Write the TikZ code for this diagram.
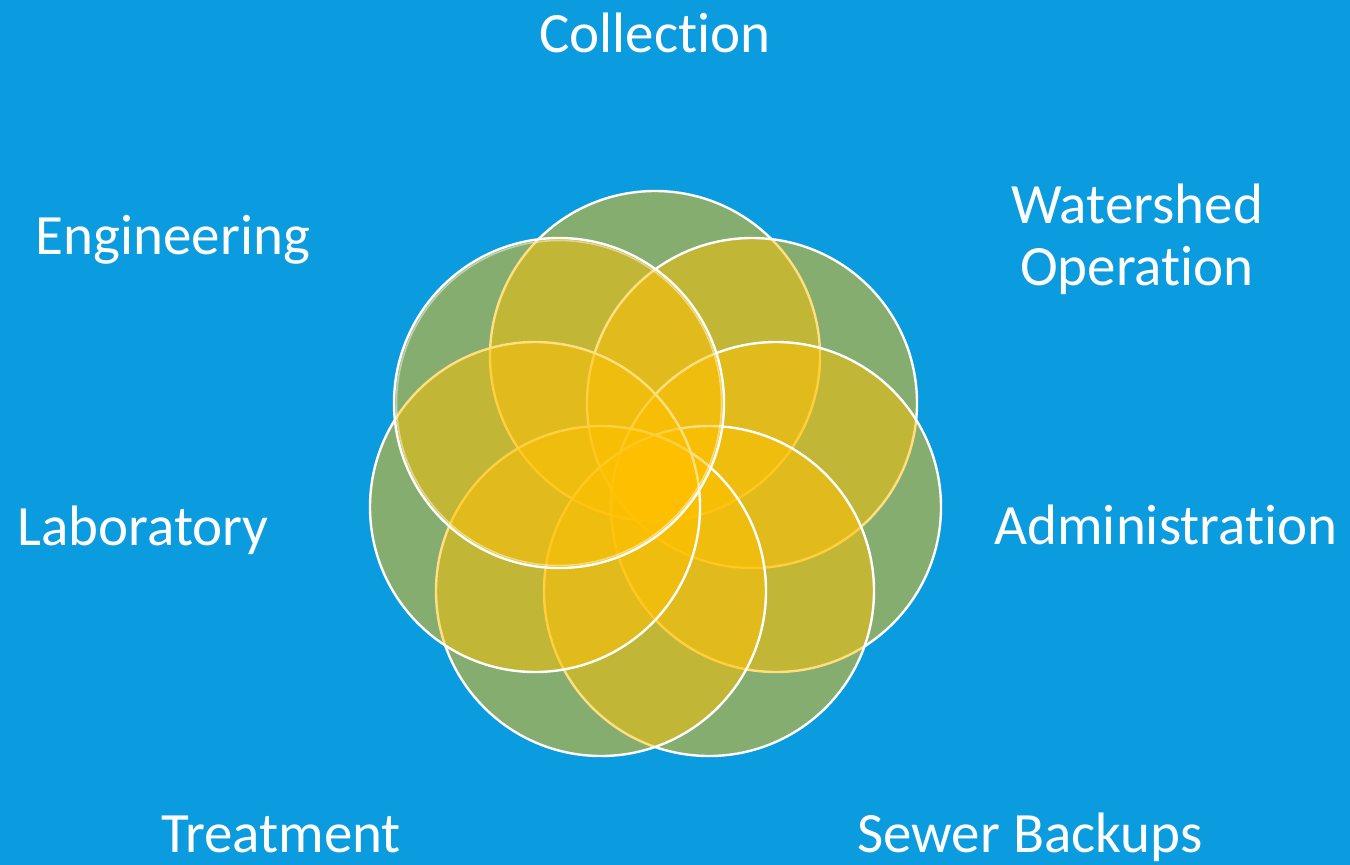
\documentclass[tikz,border=0pt]{standalone}
\usepackage{fontspec}
\setmainfont{Carlito}[Ligatures={NoCommon,NoRare}]
\definecolor{bg}{RGB}{11,155,223}
\definecolor{gold}{RGB}{255,192,0}
\tikzset{
  petal/.style={circle, minimum size=330pt, inner sep=0pt, fill=gold, fill opacity=0.5, draw=white, draw opacity=1, line width=2.4pt},
  lbl/.style={text=white, font=\fontsize{57}{62}\selectfont, anchor=base, inner sep=0pt, align=center}
}
\begin{document}
\begin{tikzpicture}[x=1pt,y=-1pt]
\fill[bg] (0,0) rectangle (1350,865);
\useasboundingbox (0,0) rectangle (1350,865);
\node[petal] (c1) at (655,356) {};
\node[petal] (c2) at (752,403) {};
\node[petal] (c3) at (776,507) {};
\node[petal] (c4) at (709,591) {};
\node[petal] (c5) at (601,591) {};
\node[petal] (c6) at (535,507) {};
\node[petal] (c7) at (559,403) {};
\node[circle, minimum size=325pt, inner sep=0pt, draw=white, draw opacity=0.45, line width=1.6pt] (c7b) at (559,403) {};
\node[lbl] (t1) at (655,52) {Collection};
\node[lbl] (t2) at (1137,285) {Watershed\\Operation};
\node[lbl] (t3) at (1166,544) {Administration};
\node[lbl] (t4) at (1030,852) {Sewer Backups};
\node[lbl] (t5) at (281,852) {Treatment};
\node[lbl] (t6) at (143,545) {Laboratory};
\node[lbl] (t7) at (173,254) {Engineering};
\end{tikzpicture}
\end{document}
